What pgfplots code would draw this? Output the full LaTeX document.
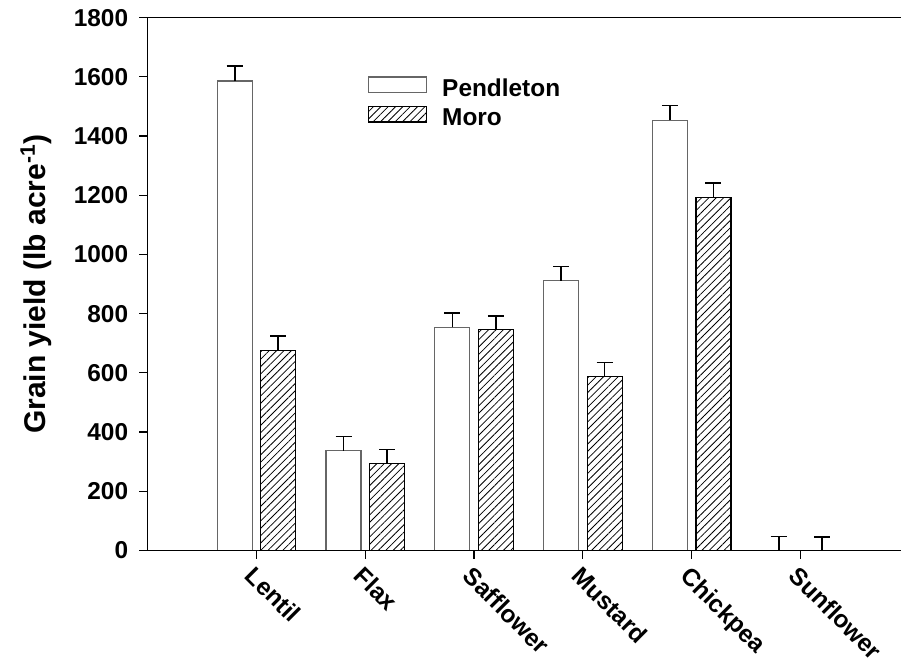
\documentclass[border=0pt]{standalone}
\usepackage{fontspec}
\setmainfont{Liberation Sans}
\usepackage{pgfplots}
\usepackage{pgfplotstable}
\pgfplotsset{compat=1.18}
\usetikzlibrary{patterns,patterns.meta}

\pgfplotstableread{
x y err
0.8 1586 50
1.8 337 48
2.8 754 49
3.8 912 48
4.8 1453 50
5.8 0 47
}\pendleton
\pgfplotstableread{
x y err
1.2 677 47
2.2 294 47
3.2 746 47
4.2 588 47
5.2 1193 49
6.2 0 46
}\moro

\begin{document}
\begin{tikzpicture}
\begin{axis}[
  name=ax,
  scale only axis,
  width=376.65pt, height=266.4pt,
  xmin=0, xmax=6.924, ymin=0, ymax=1800,
  axis line style={draw=none},
  extra description/.code={
    \draw[black, line width=0.8pt] (axis description cs:1,1) -- (axis description cs:0,1) -- (axis description cs:0,0) -- (axis description cs:1,0);
  },
  xtick={1,2,3,4,5,6},
  xticklabels={Lentil,Flax,Safflower,Mustard,Chickpea,Sunflower},
  ytick={0,200,...,1800},
  xtick pos=bottom, ytick pos=left,
  tick align=outside,
  major tick length=4.25pt,
  tick style={black, line width=0.6pt},
  /pgf/number format/assume math mode=true,
  /pgf/number format/1000 sep={},
  every tick label/.append style={font=\bfseries\fontsize{12.2}{14}\selectfont},
  tick label style={font=\bfseries\fontsize{12.2}{14}\selectfont},
  yticklabel style={font=\bfseries\fontsize{12.2}{14}\selectfont, xshift=-2pt},
  xticklabel style={font=\bfseries\fontsize{12.2}{14}\selectfont, rotate=-45, anchor=north west, inner sep=2pt},
  ylabel={Grain yield (lb acre\textsuperscript{-1})},
  ylabel style={font=\bfseries\fontsize{15}{17}\selectfont, at={(axis description cs:-0.127,0.5)}, anchor=south, inner sep=0pt},
  ybar, bar width=17.5pt, bar shift=0pt,
  legend image code/.code={\draw[#1] (0pt,-1.2pt) rectangle (29pt,6.6pt);},
  legend style={at={(axis description cs:0.2925,0.838)}, anchor=west, draw=none, fill=none, inner sep=0pt, outer sep=0pt,
    font=\bfseries\fontsize{12.2}{14}\selectfont, row sep=1.8pt, column sep=7.5pt,
    nodes={inner sep=0pt, text height=9pt, text depth=3pt}},
  legend cell align=left,
]
\addplot[draw=black!60, line width=0.6pt, fill=white,
  error bars/.cd, y dir=plus, y explicit,
  error bar style={black, line width=0.8pt},
  error mark options={rotate=90, mark size=4pt, black, line width=0.8pt}]
  table[x=x, y=y, y error=err] {\pendleton};
\addlegendentry{Pendleton}
\addplot[draw=black, line width=0.6pt, pattern={Lines[angle=45,distance=2.6pt,line width=0.4pt]}, pattern color=black,
  error bars/.cd, y dir=plus, y explicit,
  error bar style={black, line width=0.8pt},
  error mark options={rotate=90, mark size=4pt, black, line width=0.8pt}]
  table[x=x, y=y, y error=err] {\moro};
\addlegendentry{Moro}
\end{axis}
\pgfresetboundingbox
\path[use as bounding box] ([shift={(-73.85pt,-56.75pt)}]ax.south west) rectangle ([shift={(0pt,8.85pt)}]ax.north east);
\end{tikzpicture}
\end{document}
